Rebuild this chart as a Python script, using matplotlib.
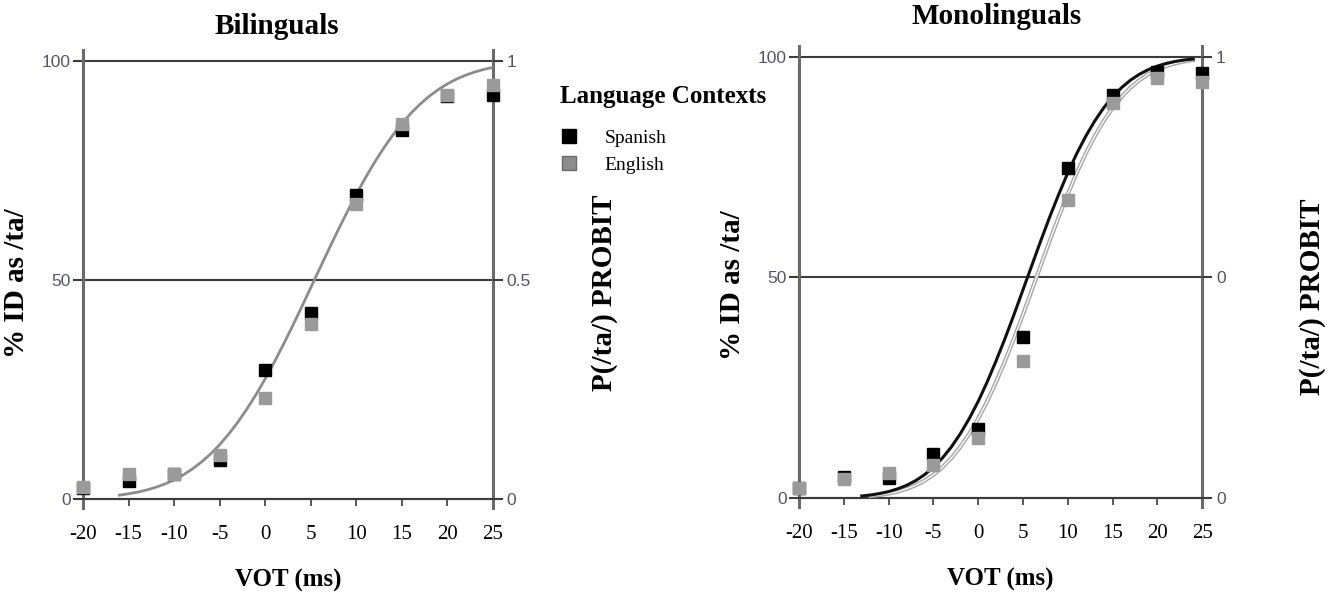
import matplotlib

matplotlib.use("Agg")
import matplotlib.pyplot as plt
from matplotlib.lines import Line2D

plt.rcParams["font.family"] = ["Liberation Serif", "DejaVu Serif"]

# data
vot = [-20, -15, -10, -5, 0, 5, 10, 15, 20, 25]

bi_spanish = [2.5, 4.1, 5.6, 8.9, 29.4, 42.4, 69.3, 84.2, 92.0, 92.2]
bi_english = [2.8, 5.7, 5.7, 10.0, 23.0, 40.0, 67.4, 85.6, 92.2, 94.5]
bi_fit_x = list(range(-16, 26))
bi_fit_y = [0.87, 1.17, 1.55, 2.05, 2.66, 3.42, 4.35, 5.48, 6.83, 8.41, 10.26, 12.39,
            14.82, 17.54, 20.55, 23.85, 27.43, 31.24, 35.27, 39.48, 43.81, 48.23, 52.66,
            57.06, 61.36, 65.54, 69.53, 73.31, 76.83, 80.07, 83.04, 85.70, 88.06, 90.13,
            91.92, 93.46, 94.76, 95.85, 96.74, 97.47, 98.06, 98.53]

mono_spanish = [2.2, 4.8, 4.5, 10.0, 15.6, 36.5, 74.8, 91.4, 96.6, 96.3]
mono_english = [2.3, 4.3, 5.7, 7.5, 13.6, 31.0, 67.6, 89.5, 95.2, 94.3]
mono_sp_fit_x = list(range(-13, 25))
mono_sp_fit_y = [0.46, 0.68, 1.01, 1.45, 2.06, 2.86, 3.91, 5.26, 6.96, 9.05, 11.56, 14.55,
                 18.0, 21.9, 26.3, 31.1, 36.2, 41.6, 47.2, 52.8, 58.4, 63.8, 68.9, 73.7,
                 78.1, 82.0, 85.45, 88.44, 90.95, 93.04, 94.74, 96.09, 97.14, 97.94, 98.55,
                 98.99, 99.32, 99.54]
mono_en_fit_x = list(range(-12, 25))
mono_en_fit_y = [0.46, 0.68, 1.01, 1.45, 2.06, 2.86, 3.91, 5.26, 6.96, 9.05, 11.56, 14.55,
                 18.0, 21.9, 26.3, 31.1, 36.2, 41.6, 47.2, 52.8, 58.4, 63.8, 68.9, 73.7,
                 78.1, 82.0, 85.45, 88.44, 90.95, 93.04, 94.74, 96.09, 97.14, 97.94, 98.55,
                 98.99, 99.32]

y_ticks = [0, 50, 100]
bi_right_labels = ["0", "0.5", "1"]
mono_right_labels = ["0", "0", "1"]

TICK_COLOR = "#55556a"
GRID_COLOR = "#3c3c3c"
SPINE_COLOR = "#6a6a6a"
BLACK = "#000000"
GRAY = "#9a9a9a"
LABEL_SIZE = 21


def style_axes(ax, right_labels):
    ax.set_xlim(-20, 25)
    ax.set_ylim(-2, 102.5)
    for y in y_ticks:
        ax.axhline(y, color=GRID_COLOR, linewidth=1.5, zorder=1)
    ax.spines["top"].set_visible(False)
    ax.spines["bottom"].set_position(("data", 0))
    ax.spines["bottom"].set_color(GRID_COLOR)
    ax.spines["bottom"].set_linewidth(1.5)
    for side in ["left", "right"]:
        ax.spines[side].set_color(SPINE_COLOR)
        ax.spines[side].set_linewidth(2.2)
    ax.set_xticks(vot)
    ax.set_xticklabels([str(v) for v in vot], fontsize=15)
    ax.tick_params(axis="x", direction="out", length=5, width=1.2, color=GRID_COLOR, pad=14)
    ax.set_yticks(y_ticks)
    ax.set_yticklabels([str(v) for v in y_ticks], fontsize=12.5,
                       family=["Liberation Sans", "DejaVu Sans"], color=TICK_COLOR)
    ax.tick_params(axis="y", direction="out", length=7, width=1.5, color=GRID_COLOR, pad=2)
    ax.set_xlabel("VOT (ms)", fontsize=18, fontweight="bold", labelpad=18)
    ax.set_ylabel("% ID as /ta/", fontsize=LABEL_SIZE, fontweight="bold", va="center")

    axr = ax.twinx()
    axr.set_ylim(ax.get_ylim())
    axr.set_yticks(y_ticks)
    axr.set_yticklabels(right_labels, fontsize=12.5,
                        family=["Liberation Sans", "DejaVu Sans"], color=TICK_COLOR)
    axr.tick_params(axis="y", direction="out", length=7, width=1.5, color=GRID_COLOR, pad=3)
    for side in ["top", "bottom", "left", "right"]:
        axr.spines[side].set_visible(False)
    axr.set_ylabel("P(/ta/) PROBIT", fontsize=LABEL_SIZE, fontweight="bold", va="center")
    return axr


fig = plt.figure(figsize=(13.28, 5.97), dpi=100)

# Bilinguals
ax1 = fig.add_axes([0.0625, 0.1496, 0.3087, 0.7667])
ax1r = style_axes(ax1, bi_right_labels)
ax1.plot(bi_fit_x, bi_fit_y, color="#8c8c8c", linewidth=2, zorder=3)
ax1.plot(vot, bi_spanish, "s", color=BLACK, markersize=8.5, clip_on=False, zorder=4)
ax1.plot(vot, bi_english, "s", color=GRAY, markersize=8.5, clip_on=False, zorder=5)
ax1.yaxis.set_label_coords(-0.161, 0.49)
ax1r.yaxis.set_label_coords(1.271, 0.47)

# Monolinguals
ax2 = fig.add_axes([0.6017, 0.1511, 0.3035, 0.7719])
ax2r = style_axes(ax2, mono_right_labels)
ax2.plot(mono_en_fit_x, mono_en_fit_y, color="#a8a8a8", linewidth=3, zorder=3)
ax2.plot(mono_en_fit_x, mono_en_fit_y, color="white", linewidth=0.9, zorder=3)
ax2.plot(mono_sp_fit_x, mono_sp_fit_y, color="#111111", linewidth=2.2, zorder=3)
ax2.plot(vot, mono_spanish, "s", color=BLACK, markersize=8.5, clip_on=False, zorder=4)
ax2.plot(vot, mono_english, "s", color=GRAY, markersize=8.5, clip_on=False, zorder=5)
ax2.yaxis.set_label_coords(-0.166, 0.48)
ax2r.yaxis.set_label_coords(1.273, 0.455)

fig.text(277 / 1328, 1 - 27 / 597, "Bilinguals", ha="center", va="center",
         fontsize=21, fontweight="bold")
fig.text(997 / 1328, 1 - 16 / 597, "Monolinguals", ha="center", va="center",
         fontsize=21, fontweight="bold")

# legend
fig.text(560 / 1328, 1 - 97 / 597, "Language Contexts", ha="left", va="center",
         fontsize=18, fontweight="bold")
handles = [
    Line2D([], [], marker="s", linestyle="none", color=BLACK, markersize=10),
    Line2D([], [], marker="s", linestyle="none", color="#8c8c8c", markeredgecolor="#6a6a6a",
           markersize=10),
]
fig.legend(handles, ["Spanish", "English"], loc="upper left",
           bbox_to_anchor=(546 / 1328, 1 - 116 / 597), frameon=False, fontsize=14,
           handlelength=1.0, handletextpad=1.3, labelspacing=0.45, borderpad=0.2)

fig.savefig("out.png", dpi=100)
plt.close(fig)
